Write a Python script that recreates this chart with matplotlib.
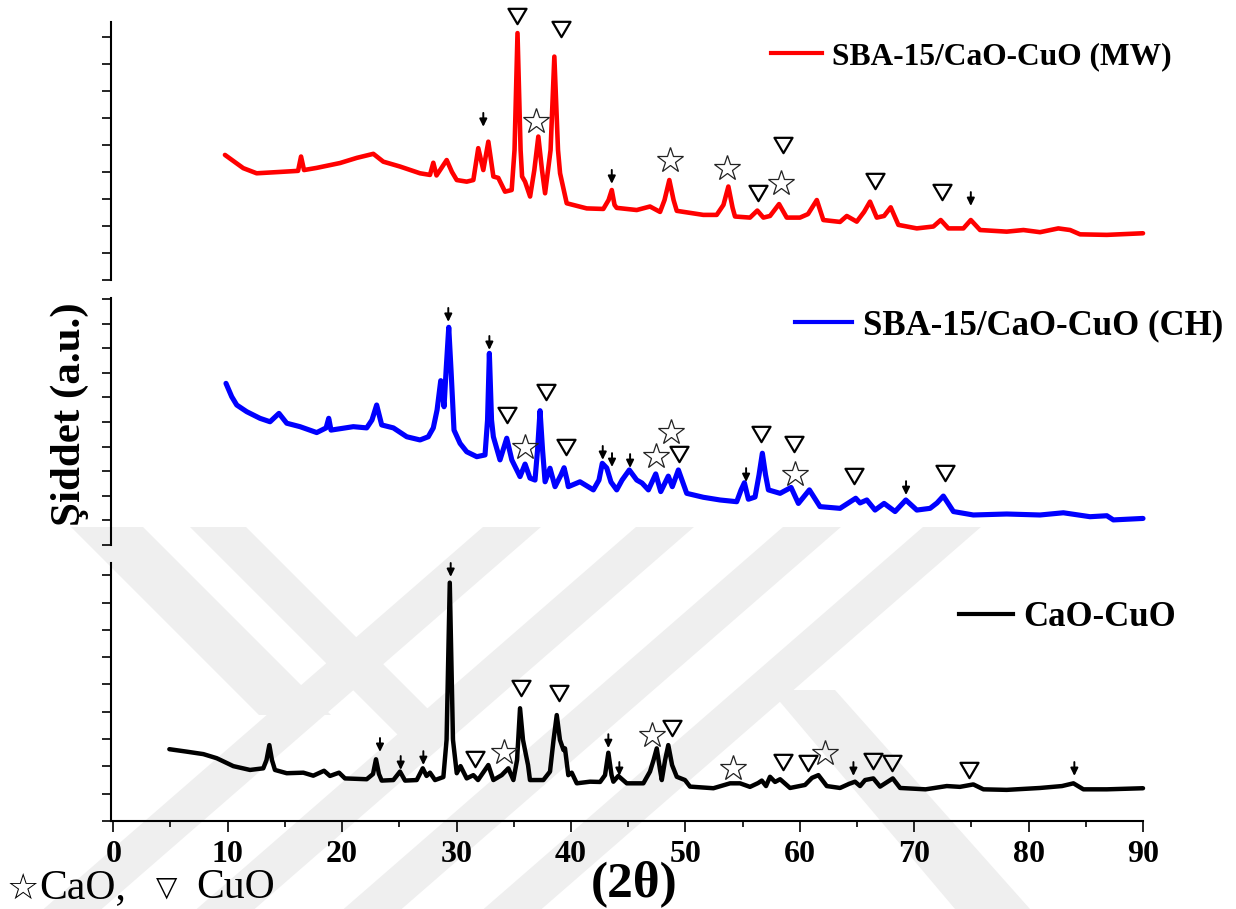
import matplotlib
matplotlib.use('Agg')
import matplotlib.pyplot as plt
from matplotlib.lines import Line2D
from matplotlib.path import Path
from matplotlib.patches import Polygon

plt.rcParams['font.family'] = ['Liberation Serif', 'DejaVu Sans']

# ---------------- data (2theta, intensity a.u.) ----------------
mw_x = [9.76, 10.38, 11.36, 12.53, 14.57, 16.15, 16.41, 16.67, 17.78, 19.82, 21.28, 22.73, 23.6, 25.06,
        26.81, 27.68, 27.97, 28.25, 29.14, 29.6, 30.02, 30.89, 31.47, 31.9, 32.34, 32.78, 33.22, 33.65,
        34.24, 34.82, 35.07, 35.33, 35.6, 35.73, 35.99, 36.43, 36.8, 37.15, 37.47, 37.74, 38.22, 38.55,
        38.87, 39.05, 39.63, 41.38, 42.83, 43.29, 43.57, 43.81, 44.0, 45.75, 46.91, 47.79, 48.18, 48.6,
        48.97, 49.25, 51.57, 52.74, 53.33, 53.76, 54.13, 54.34, 55.65, 56.29, 56.82, 57.4, 58.19, 58.86,
        60.02, 60.72, 61.49, 62.06, 63.52, 64.11, 64.98, 65.62, 66.14, 66.73, 67.37, 67.95, 68.62, 70.23,
        71.68, 72.32, 72.99, 74.3, 74.95, 75.76, 78.09, 79.55, 81.0, 82.6, 83.63, 84.5, 86.84, 90.0]
mw_y = [463, 444, 414, 395, 400, 404, 457, 407, 415, 433, 452, 467, 438, 420,
        395, 389, 434, 387, 444, 400, 370, 364, 370, 488, 407, 512, 383, 378,
        327, 333, 481, 914, 481, 383, 364, 309, 407, 531, 407, 321, 481, 827,
        481, 395, 284, 265, 263, 296, 333, 278, 267, 259, 272, 252, 296, 370,
        296, 256, 241, 241, 278, 346, 267, 235, 231, 257, 231, 237, 281, 231,
        231, 244, 296, 222, 215, 237, 216, 252, 290, 231, 237, 269, 204, 191,
        198, 222, 191, 191, 222, 185, 179, 185, 177, 191, 185, 169, 167, 173]

ch_x = [9.85, 10.35, 10.79, 11.66, 12.82, 13.7, 14.48, 15.16, 16.32, 17.78, 18.6, 18.83, 19.03, 20.98,
        22.15, 22.61, 23.02, 23.46, 24.48, 25.65, 26.81, 27.53, 27.97, 28.3, 28.62, 28.91, 29.09, 29.32,
        29.52, 29.78, 30.31, 30.89, 31.77, 32.49, 32.71, 32.87, 33.06, 33.22, 33.8, 34.39, 34.83, 35.55,
        35.99, 36.42, 36.86, 37.08, 37.3, 37.52, 37.74, 38.17, 38.61, 39.13, 39.4, 39.66, 39.77, 40.79,
        41.96, 42.45, 42.74, 43.13, 43.5, 44.0, 44.47, 45.1, 45.75, 46.21, 46.77, 47.41, 47.85, 48.51,
        48.86, 49.39, 50.12, 51.57, 53.03, 54.49, 54.87, 55.16, 55.51, 56.09, 56.44, 56.73, 57.01, 57.26,
        58.28, 59.24, 59.88, 60.84, 61.77, 63.52, 64.89, 65.27, 65.86, 66.58, 67.37, 68.33, 69.27, 70.23,
        71.39, 72.0, 72.55, 73.43, 75.17, 78.09, 81.0, 83.04, 85.37, 86.84, 87.41, 90.0]
ch_y = [657, 603, 569, 542, 515, 501, 535, 495, 481, 457, 476, 515, 467, 481,
        476, 508, 569, 488, 476, 440, 427, 440, 476, 549, 668, 562, 711, 885,
        711, 467, 413, 379, 359, 366, 508, 779, 508, 440, 346, 434, 346, 278,
        329, 272, 264, 386, 546, 386, 257, 312, 237, 285, 314, 264, 237, 257,
        224, 264, 332, 313, 256, 224, 264, 305, 264, 252, 224, 289, 217, 280,
        237, 305, 210, 194, 183, 176, 224, 253, 186, 195, 285, 373, 285, 224,
        210, 234, 169, 224, 156, 149, 190, 171, 183, 142, 169, 136, 183, 142,
        149, 171, 199, 136, 122, 126, 122, 131, 115, 119, 102, 108]

cc_x = [4.9, 6.42, 7.87, 9.04, 10.49, 11.95, 13.11, 13.39, 13.64, 13.87, 14.13, 15.16, 16.61, 17.48,
        18.42, 18.94, 19.73, 20.25, 22.15, 22.7, 22.96, 23.22, 23.46, 24.48, 25.06, 25.5, 26.52, 27.05,
        27.38, 27.68, 28.12, 28.85, 29.13, 29.41, 29.69, 30.02, 30.35, 30.89, 31.47, 31.88, 32.78, 33.22,
        33.95, 34.53, 34.97, 35.29, 35.55, 35.81, 36.07, 36.25, 36.42, 37.59, 38.17, 38.48, 38.76, 39.04,
        39.35, 39.48, 39.66, 39.77, 40.07, 40.51, 41.67, 42.55, 42.98, 43.27, 43.55, 43.71, 44.14, 44.88,
        46.33, 46.91, 47.22, 47.5, 47.79, 47.94, 48.23, 48.51, 48.84, 49.25, 49.97, 50.41, 52.45, 53.91,
        54.78, 55.65, 56.36, 56.68, 57.05, 57.4, 57.84, 58.28, 59.15, 60.46, 61.07, 61.63, 62.36, 63.52,
        64.31, 64.83, 65.27, 65.71, 66.43, 67.02, 68.13, 68.77, 71.0, 72.85, 74.0, 75.17, 76.05, 78.09,
        81.0, 82.92, 83.92, 84.79, 86.84, 90.0]
cc_y = [263, 254, 245, 230, 201, 187, 193, 223, 278, 223, 187, 175, 177, 166,
        184, 165, 177, 156, 153, 172, 226, 172, 148, 150, 181, 148, 150, 193,
        165, 177, 150, 161, 297, 873, 297, 175, 201, 156, 168, 150, 205, 150,
        168, 193, 150, 223, 413, 297, 242, 205, 150, 150, 181, 297, 388, 297,
        260, 266, 205, 168, 177, 138, 144, 143, 168, 250, 168, 144, 165, 138,
        138, 181, 223, 266, 187, 150, 223, 278, 205, 162, 150, 126, 120, 138,
        138, 125, 139, 148, 128, 162, 143, 153, 121, 132, 158, 168, 128, 121,
        136, 144, 128, 150, 156, 126, 156, 121, 116, 128, 125, 134, 116, 114,
        121, 128, 138, 116, 116, 120]

# peak annotations: CuO (triangle), CaO (star), arrow tips
mw_cuo = [(35.29, 978), (39.14, 930), (56.38, 323), (58.57, 500), (66.58, 367), (72.41, 327)]
mw_cao = [(36.95, 590), (48.66, 444), (53.62, 415), (58.36, 359)]
mw_arr = [(32.34, 567), (43.57, 356), (74.95, 274)]

ch_cuo = [(34.44, 528), (37.8, 623), (39.55, 400), (49.45, 369), (56.59, 451), (59.5, 411),
          (64.77, 282), (72.7, 291)]
ch_cao = [(35.99, 397), (47.44, 363), (48.75, 461), (59.59, 287)]
ch_arr = [(29.28, 907), (32.87, 793), (42.78, 346), (43.59, 317), (45.17, 313), (55.31, 256),
          (69.29, 203)]

cc_cuo = [(31.6, 226), (35.64, 486), (38.96, 468), (48.86, 340), (58.5, 217), (60.75, 211),
          (66.38, 220), (68.04, 214), (74.83, 187)]
cc_cao = [(34.15, 254), (47.12, 315), (54.14, 193), (62.24, 248)]
cc_arr = [(29.49, 894), (23.31, 253), (25.12, 187), (27.1, 205), (43.27, 267), (44.23, 165),
          (64.69, 165), (84.0, 165)]

labels = ['SBA-15/CaO-CuO (MW)', 'SBA-15/CaO-CuO (CH)', 'CaO-CuO']
colors = ['#ff0000', '#0000ff', '#000000']
x_ticks = [0, 10, 20, 30, 40, 50, 60, 70, 80, 90]

# ---------------- layout ----------------
W, H = 1236, 909
fig = plt.figure(figsize=(W / 100, H / 100), dpi=100)

def fx(px):
    return px / W

def fy(py):
    return 1 - py / H

def fpt(p):
    return (fx(p[0]), fy(p[1]))

# faint background watermark (diagonal bands)
wm_col = '#efefef'
slope = 1.15
for xc in [129, 282, 429, 569]:
    w = 58
    top, bot = 527, 909
    xt = xc + slope * (860 - top)
    xb = xc + slope * (860 - bot)
    pts = [(xt - w / 2, top), (xt + w / 2, top), (xb + w / 2, bot), (xb - w / 2, bot)]
    fig.patches.append(Polygon([fpt(p) for p in pts], closed=True, transform=fig.transFigure,
                               facecolor=wm_col, edgecolor='none', zorder=-5))
for (x0, x1, y0, y1) in [(71, 143, 527, 715), (190, 246, 527, 735)]:
    d = y1 - y0
    pts = [(x0, y0), (x1, y0), (x1 + d, y1), (x0 + d, y1)]
    fig.patches.append(Polygon([fpt(p) for p in pts], closed=True, transform=fig.transFigure,
                               facecolor=wm_col, edgecolor='none', zorder=-5))
pts = [(770, 690), (835, 690), (1030, 909), (955, 909)]
fig.patches.append(Polygon([fpt(p) for p in pts], closed=True, transform=fig.transFigure,
                           facecolor=wm_col, edgecolor='none', zorder=-5))

L, R = 111, 1143
panel_geo = [(22, 280, 955), (298, 545, 1004), (563, 821, 945)]
legend_pos = [(771, 57), (795, 326), (959, 618)]
legend_size = [22.7, 25, 25]
legend_hl = [1.62, 1.65, 1.56]

tri = Path([(-1, 0.85), (1, 0.85), (0, -0.85), (-1, 0.85)],
           [Path.MOVETO, Path.LINETO, Path.LINETO, Path.CLOSEPOLY])

series = [(mw_x, mw_y, mw_cuo, mw_cao, mw_arr),
          (ch_x, ch_y, ch_cuo, ch_cao, ch_arr),
          (cc_x, cc_y, cc_cuo, cc_cao, cc_arr)]
lws = [3.3, 3.7, 3.2]

for i, ((top, bot, ymax), (xs, ys, cuo, cao, arr)) in enumerate(zip(panel_geo, series)):
    ax = fig.add_axes([fx(L), fy(bot), fx(R) - fx(L), (bot - top) / H])
    ax.set_xlim(-0.2, 90)
    ax.set_ylim(0, ymax)
    ax.patch.set_alpha(0)
    ax.plot(xs, ys, color=colors[i], lw=lws[i], solid_joinstyle='round',
            solid_capstyle='round', clip_on=False)
    ax.plot([p[0] for p in cuo], [p[1] for p in cuo], ls='none', marker=tri, ms=13,
            mfc='none', mec='black', mew=1.6, clip_on=False)
    ax.plot([p[0] for p in cao], [p[1] for p in cao], ls='none', marker='*', ms=19,
            mfc='none', mec='#222222', mew=0.9, clip_on=False)
    for (ax_x, ax_y) in arr:
        ax.annotate('', xy=(ax_x, ax_y), xytext=(0, 10), textcoords='offset points',
                    arrowprops=dict(arrowstyle='-|>,head_length=0.45,head_width=0.22',
                                    color='black', lw=1.4, shrinkA=0, shrinkB=0),
                    annotation_clip=False)
    for s in ['top', 'right']:
        ax.spines[s].set_visible(False)
    ax.spines['left'].set_linewidth(1.5)
    ax.set_yticks(range(0, int(ymax) + 1, 100))
    ax.tick_params(axis='y', direction='out', length=6.5, width=1.2, labelleft=False)
    if i < 2:
        ax.spines['bottom'].set_visible(False)
        ax.set_xticks([])
    else:
        ax.spines['bottom'].set_linewidth(1.5)
        ax.set_xticks(x_ticks)
        ax.set_xticks([5, 15, 25, 35, 45, 55, 65, 75, 85], minor=True)
        ax.tick_params(axis='x', which='major', direction='out', length=8, width=1.2, pad=5.5)
        ax.tick_params(axis='x', which='minor', direction='out', length=4.5, width=1.2)
        for lab in ax.get_xticklabels():
            lab.set_fontsize(23)
            lab.set_fontweight('bold')
    lx, ly = legend_pos[i]
    ax.legend(handles=[Line2D([], [], color=colors[i], lw=3)], labels=[labels[i]],
              loc='center left', bbox_to_anchor=(fx(lx), fy(ly)), bbox_transform=fig.transFigure,
              frameon=False, borderpad=0, borderaxespad=0, handlelength=legend_hl[i],
              handletextpad=0.3, prop={'weight': 'bold', 'size': legend_size[i]})

fig.text(fx(70), fy(414), 'Şiddet (a.u.)', rotation=90, fontsize=31, fontweight='bold',
         ha='center', va='center')
fig.text(fx(634), fy(884), '(2θ)', fontsize=37, fontweight='bold', ha='center', va='center')
fig.text(fx(7), fy(889), '☆', fontsize=26, ha='left', va='center',
         family=['DejaVu Sans'])
fig.text(fx(39), fy(888), 'CaO,', fontsize=30, ha='left', va='center')
fig.text(fx(156), fy(888), '▽', fontsize=20, ha='left', va='center',
         family=['DejaVu Sans'])
fig.text(fx(196), fy(888), 'CuO', fontsize=30, ha='left', va='center')

fig.savefig('out.png', dpi=100)
